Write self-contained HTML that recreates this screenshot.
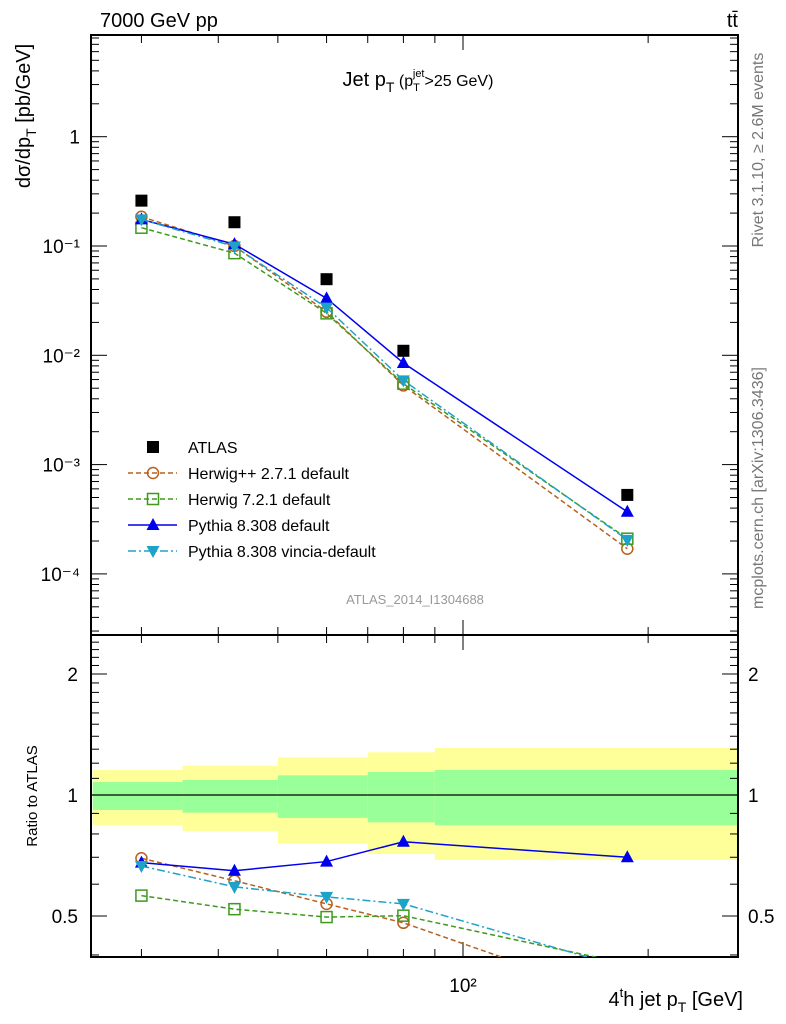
<!DOCTYPE html>
<html><head><meta charset="utf-8">
<style>
html,body{margin:0;padding:0;background:#fff;}
svg{display:block;font-family:"Liberation Sans",sans-serif;}
</style></head>
<body>
<svg id="chart" width="786" height="1024" viewBox="0 0 786 1024" xmlns="http://www.w3.org/2000/svg">
<g id="bands"></g>
<g id="axes"></g>
<g id="series"></g>
<text x="100" y="27" font-size="20">7000 GeV pp</text>
<text x="738" y="27" font-size="20" text-anchor="end">tt̄</text>
<text x="418" y="86" font-size="20" text-anchor="middle">Jet p<tspan font-size="14" dy="6">T</tspan><tspan font-size="16" dy="-6"> (p</tspan><tspan font-size="11" dy="5">T</tspan><tspan font-size="11" dy="-14" dx="-7">jet</tspan><tspan font-size="16" dy="9">&gt;25 GeV)</tspan></text>
<text x="415" y="604" font-size="13" fill="#999" text-anchor="middle">ATLAS_2014_I1304688</text>
<text transform="translate(763,150) rotate(-90)" font-size="16" fill="#777" text-anchor="middle">Rivet 3.1.10, ≥ 2.6M events</text>
<text transform="translate(763,488) rotate(-90)" font-size="16" fill="#777" text-anchor="middle">mcplots.cern.ch [arXiv:1306.3436]</text>
<text transform="translate(30,116) rotate(-90)" font-size="20" text-anchor="middle">dσ/dp<tspan font-size="14" dy="6">T</tspan><tspan dy="-6"> [pb/GeV]</tspan></text>
<text transform="translate(37,796) rotate(-90)" font-size="15" text-anchor="middle">Ratio to ATLAS</text>
<text x="743" y="1006" font-size="20" text-anchor="end">4<tspan font-size="13" dy="-9">t</tspan><tspan dy="9">h jet p</tspan><tspan font-size="14" dy="6">T</tspan><tspan dy="-6"> [GeV]</tspan></text>
<g id="legend"></g>
</svg>
<script>
const binEdges = [25, 35, 50, 70, 90, 280];
const xVals = [30, 42.5, 60, 80, 185];
const atlas = [0.260, 0.165, 0.0497, 0.0110, 5.28e-4];
const herwigpp = [0.185, 0.100, 0.025, 0.0053, 1.7e-4];
const herwig7 = [0.147, 0.086, 0.0242, 0.0055, 2.1e-4];
const pythia = [0.175, 0.104, 0.0332, 0.0085, 3.7e-4];
const vincia = [0.175, 0.099, 0.0273, 0.0059, 2.05e-4];
const rHerwigpp = [0.696, 0.612, 0.536, 0.481, 0.307];
const rHerwig7 = [0.562, 0.520, 0.497, 0.501, 0.38];
const rPythia = [0.679, 0.648, 0.683, 0.765, 0.700];
const rVincia = [0.666, 0.591, 0.558, 0.536, 0.37];
const bandInnerUp = [1.077, 1.090, 1.119, 1.141, 1.154];
const bandInnerDn = [0.918, 0.904, 0.877, 0.855, 0.841];
const bandOuterUp = [1.154, 1.183, 1.241, 1.277, 1.309];
const bandOuterDn = [0.842, 0.814, 0.757, 0.713, 0.689];
const mainTicks = [1e-4, 1e-3, 1e-2, 1e-1, 1];
const mainTickLabels = ["10\u207B\u2074", "10\u207B\u00B3", "10\u207B\u00B2", "10\u207B\u00B9", "1"];
const ratioMajor = [0.5, 1, 2];
const ratioLabels = ["0.5", "1", "2"];

const L = 91, R = 738, T = 35, MB = 635, RB = 957;
const NS = "http://www.w3.org/2000/svg";
function X(v){ return 463 + 615 * Math.log10(v / 100); }
function Y(v){ return 246 - 109.3 * (Math.log10(v) + 1); }
function YR(v){ return 795 - 402 * Math.log10(v); }
function mk(tag, attrs, parent){
  const e = document.createElementNS(NS, tag);
  for (const k in attrs) e.setAttribute(k, attrs[k]);
  parent.appendChild(e); return e;
}
const axes = document.getElementById('axes');
const bands = document.getElementById('bands');
const series = document.getElementById('series');
const legend = document.getElementById('legend');

for (let i = 0; i < xVals.length; i++) {
  const x0 = X(binEdges[i]), x1 = Math.min(X(binEdges[i+1]), R);
  const y = mk('rect', {x: x0, y: YR(bandOuterUp[i]), width: x1 - x0, height: YR(bandOuterDn[i]) - YR(bandOuterUp[i]), fill: '#ffff99'}, bands);
  
  
  const g = mk('rect', {x: x0, y: YR(bandInnerUp[i]), width: x1 - x0, height: YR(bandInnerDn[i]) - YR(bandInnerUp[i]), fill: '#99ff99'}, bands);
  
  
}
const ref = mk('line', {x1: L, x2: R, y1: YR(1), y2: YR(1), stroke: '#000', 'stroke-width': 1.2}, axes);



const f1 = mk('rect', {x: L, y: T, width: R - L, height: MB - T, fill: 'none', stroke: '#000', 'stroke-width': 2}, axes);


const f2 = mk('rect', {x: L, y: MB, width: R - L, height: RB - MB, fill: 'none', stroke: '#000', 'stroke-width': 2}, axes);



const xMinor = [30, 40, 50, 60, 70, 80, 90, 200];
[[T, 1], [MB, -1], [MB, 1], [RB, -1]].forEach(([yb, d]) => {
  xMinor.forEach(v => {
    const t = mk('line', {x1: X(v), x2: X(v), y1: yb, y2: yb + d * 8, stroke: '#000', 'stroke-width': 1}, axes);
    
    
  });
  const t = mk('line', {x1: X(100), x2: X(100), y1: yb, y2: yb + d * 15, stroke: '#000', 'stroke-width': 1}, axes);
  
  
});
const xl = mk('text', {x: X(100), y: 992, 'font-size': 19, 'text-anchor': 'middle'}, axes);


xl.textContent = '10\u00B2';

for (let d = -5; d <= 0; d++) {
  for (let m = 1; m <= 9; m++) {
    const v = m * Math.pow(10, d);
    const y = Y(v);
    if (y < T || y > MB) continue;
    const len = m === 1 ? 16 : 8;
    [[L, 1], [R, -1]].forEach(([xb, s]) => {
      const t = mk('line', {x1: xb, x2: xb + s * len, y1: y, y2: y, stroke: '#000', 'stroke-width': 1}, axes);
      
      
    });
  }
}
mainTicks.forEach((v, i) => {
  const t = mk('text', {x: 80, y: Y(v) + 7, 'font-size': 19, 'text-anchor': 'end'}, axes);
  
  
  t.textContent = mainTickLabels[i];
});
for (let k = 4; k <= 24; k++) {
  const v = k / 10;
  const y = YR(v);
  if (y < MB || y > RB) continue;
  const major = ratioMajor.indexOf(v) >= 0;
  [[L, 1], [R, -1]].forEach(([xb, s]) => {
    const t = mk('line', {x1: xb, x2: xb + s * (major ? 16 : 8), y1: y, y2: y, stroke: '#000', 'stroke-width': 1}, axes);
    
    
  });
}
ratioMajor.forEach((v, i) => {
  const a = mk('text', {x: 78, y: YR(v) + 7, 'font-size': 19, 'text-anchor': 'end'}, axes);
  
  
  a.textContent = ratioLabels[i];
  const b = mk('text', {x: 748, y: YR(v) + 7, 'font-size': 19}, axes);
  
  
  b.textContent = ratioLabels[i];
});

function marker(type, color, x, y, parent){
  let e;
  if (type === 'sq') e = mk('rect', {x: x - 6, y: y - 6, width: 12, height: 12, fill: '#000'}, parent);
  else if (type === 'circ') e = mk('circle', {cx: x, cy: y, r: 5.5, fill: 'none', stroke: color, 'stroke-width': 1.5}, parent);
  else if (type === 'osq') e = mk('rect', {x: x - 5.5, y: y - 5.5, width: 11, height: 11, fill: 'none', stroke: color, 'stroke-width': 1.5}, parent);
  else if (type === 'tri') e = mk('polygon', {points: `${x-6.5},${y+5} ${x+6.5},${y+5} ${x},${y-7}`, fill: color}, parent);
  else e = mk('polygon', {points: `${x-6.5},${y-5} ${x+6.5},${y-5} ${x},${y+7}`, fill: color}, parent);
  return e;
}
const defs = [
  {name: 'herwigpp', vals: herwigpp, r: rHerwigpp, color: '#b8601e', dash: '5,3', type: 'circ', label: 'Herwig++ 2.7.1 default'},
  {name: 'herwig7', vals: herwig7, r: rHerwig7, color: '#3d9a1c', dash: '5,3', type: 'osq', label: 'Herwig 7.2.1 default'},
  {name: 'pythia', vals: pythia, r: rPythia, color: '#0000ee', dash: '', type: 'tri', label: 'Pythia 8.308 default'},
  {name: 'vincia', vals: vincia, r: rVincia, color: '#1fa2c8', dash: '8,3,2,3', type: 'inv', label: 'Pythia 8.308 vincia-default'}
];
const clip = mk('clipPath', {id: 'rclip'}, document.getElementById('chart'));
mk('rect', {x: L, y: MB, width: R - L, height: RB - MB}, clip);
defs.forEach(s => {
  const g = mk('g', {}, series);
  
  
  const pl = mk('polyline', {points: xVals.map((x, i) => X(x) + ',' + Y(s.vals[i])).join(' '), fill: 'none', stroke: s.color, 'stroke-width': 1.5, 'stroke-dasharray': s.dash}, g);
  
  
  xVals.forEach((x, i) => {
    const m = marker(s.type, s.color, X(x), Y(s.vals[i]), g);
    
    
  });
  const gr = mk('g', {'clip-path': 'url(#rclip)'}, series);
  
  
  const rl = mk('polyline', {points: xVals.map((x, i) => X(x) + ',' + YR(s.r[i])).join(' '), fill: 'none', stroke: s.color, 'stroke-width': 1.5, 'stroke-dasharray': s.dash}, gr);
  
  
  xVals.forEach((x, i) => {
    const m = marker(s.type, s.color, X(x), YR(s.r[i]), gr);
    
    
  });
});
const ga = mk('g', {}, series);


xVals.forEach((x, i) => {
  const m = marker('sq', '#000', X(x), Y(atlas[i]), ga);
  
  
});

const ly = [447, 473, 499, 525, 551];
const e0 = mk('g', {}, legend);


marker('sq', '#000', 153, ly[0], e0);
const t0 = mk('text', {x: 188, y: ly[0] + 6, 'font-size': 16}, e0);
t0.textContent = 'ATLAS';
defs.forEach((s, i) => {
  const e = mk('g', {}, legend);
  
  
  const y = ly[i + 1];
  mk('line', {x1: 128, x2: 177, y1: y, y2: y, stroke: s.color, 'stroke-width': 1.5, 'stroke-dasharray': s.dash}, e);
  marker(s.type, s.color, 153, y, e);
  const t = mk('text', {x: 188, y: y + 6, 'font-size': 16}, e);
  t.textContent = s.label;
});
</script>
</body></html>
